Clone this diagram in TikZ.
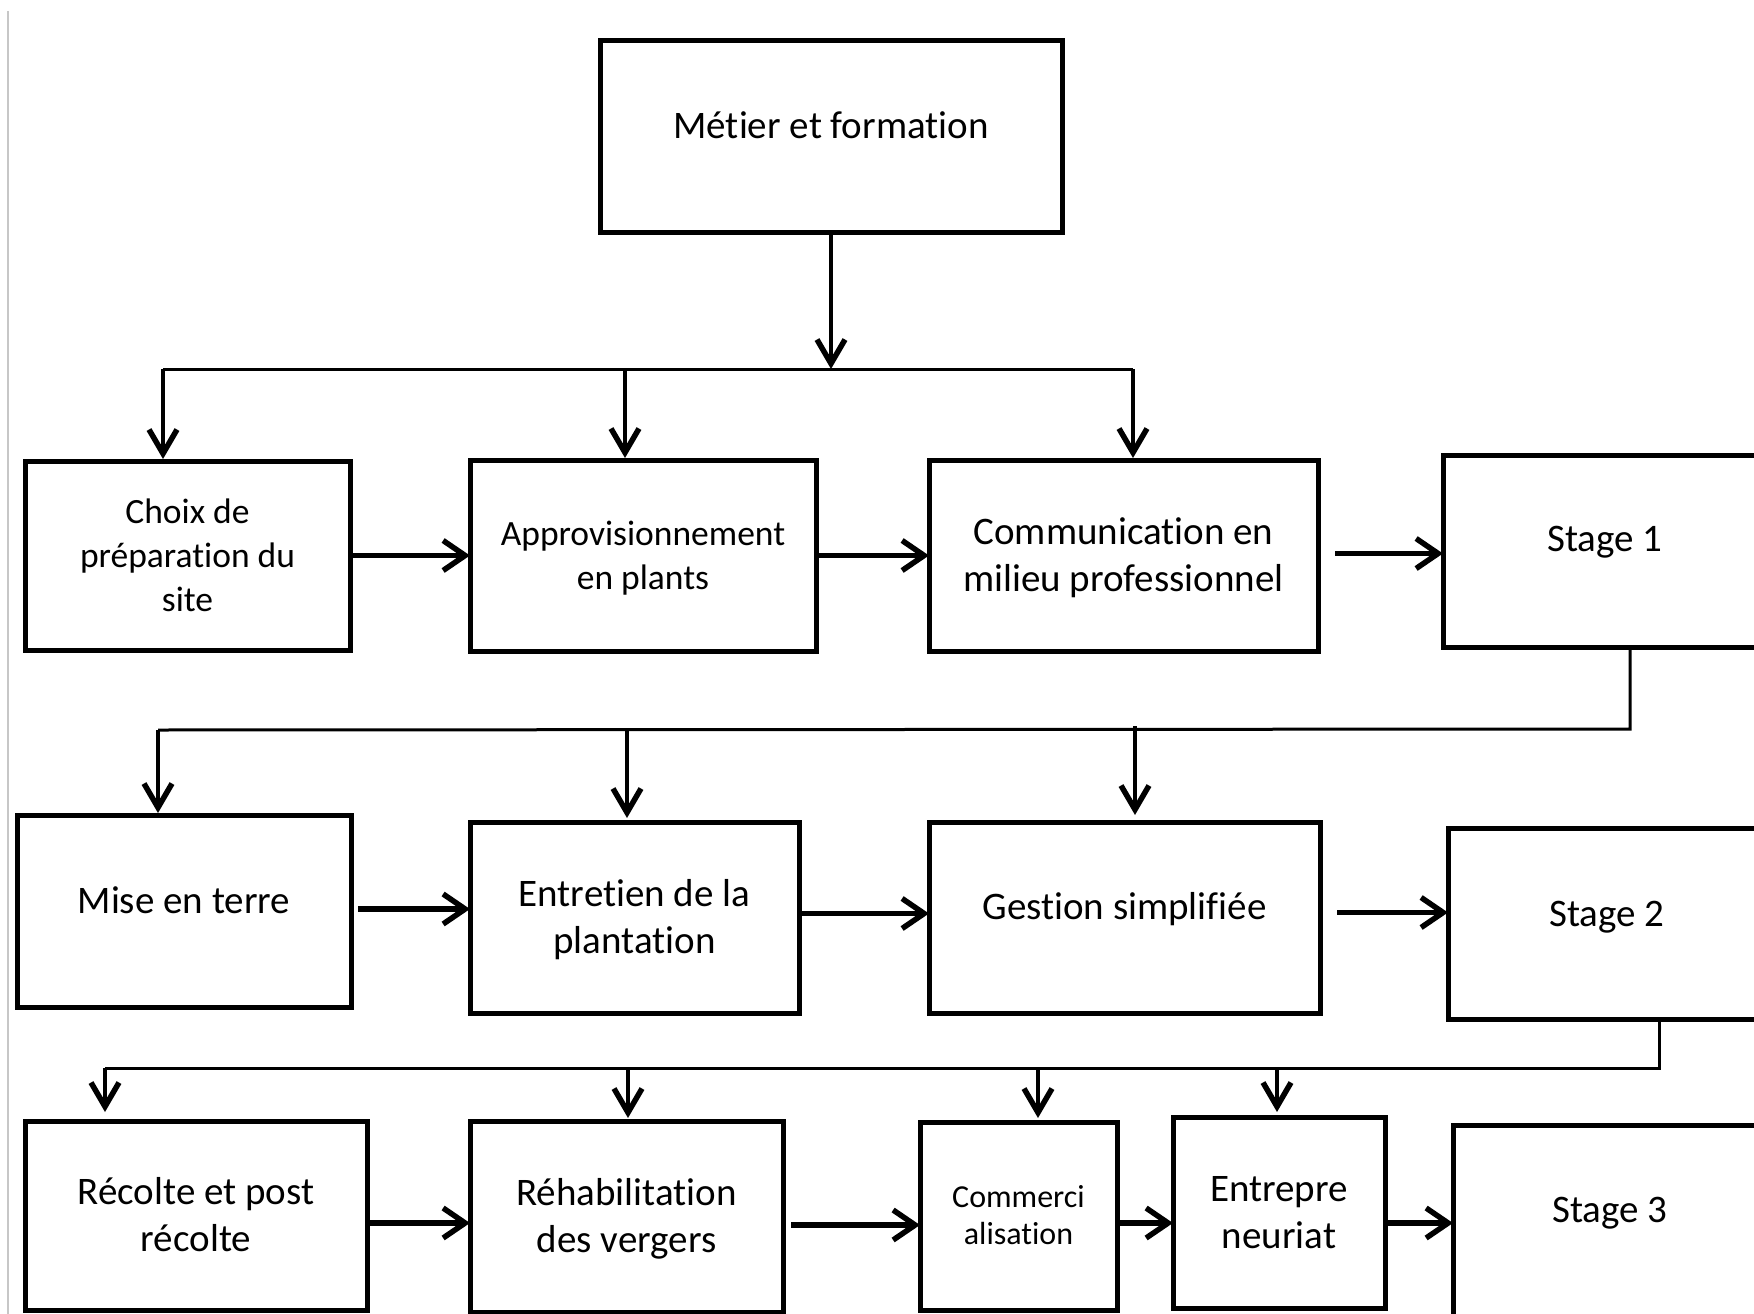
\documentclass[tikz,border=0pt]{standalone}
\usepackage{fontspec}
\setmainfont{Carlito}[Ligatures={NoCommon,NoContextual},Contextuals=NoAlternate]
\usetikzlibrary{arrows.meta,calc}
\newcommand{\up}[2][10pt]{\raisebox{#1}[\height][\depth]{#2}}
\newcommand{\dn}[1]{\raisebox{-3pt}[\height][\depth]{\begin{tabular}{@{}c@{}}#1\end{tabular}}}
\tikzset{
  box/.style={draw, line width=5pt, inner sep=0pt, outer sep=0pt, align=center,
    font=\fontsize{39pt}{47pt}\selectfont},
  smallbox/.style={box, font=\fontsize{35.5pt}{44pt}\selectfont},
  tinybox/.style={box, font=\fontsize{32pt}{37pt}\selectfont},
  harrow/.style={line width=5.5pt, -{Straight Barb[length=22pt,width=30pt,line width=5.5pt]}},
  darrow/.style={line width=3.5pt, -{Straight Barb[length=24pt,width=28pt,line width=5.5pt]}},
  barline/.style={line width=3pt, line join=miter},
}
\begin{document}
\begin{tikzpicture}[x=1pt,y=-1pt]
\useasboundingbox (0,0) rectangle (1754,1314);
\clip (0,0) rectangle (1754,1314);
\fill[white] (0,0) rectangle (1754,1314);
\draw[black!22, line width=2pt] (8,11) -- (8,1320);

% boxes
\node[box, minimum width=462pt, minimum height=191pt] (b0) at (831,136.5) {\up[11pt]{Métier et formation}};

\node[smallbox, minimum width=325pt, minimum height=189pt] (b1) at (187.5,555.5) {\dn{Choix de\\préparation du\\site}};
\node[smallbox, minimum width=346pt, minimum height=191pt] (b2) at (643,555.5) {\dn{Approvisionnement\\en plants}};
\node[box, minimum width=389pt, minimum height=191pt] (b3) at (1123.5,555.5) {\dn{Communication en\\milieu professionnel}};
\node[box, minimum width=324pt, minimum height=192pt] (s1) at (1605,551) {\up[9pt]{Stage 1}};

\node[box, minimum width=334pt, minimum height=192pt] (b5) at (184,911) {\up[11pt]{Mise en terre}};
\node[box, minimum width=329pt, minimum height=191pt] (b6) at (634.5,917.5) {\dn{Entretien de la\\plantation}};
\node[box, minimum width=391pt, minimum height=191pt] (b7) at (1124.5,917.5) {\up[8pt]{Gestion simplifiée}};
\node[box, minimum width=318pt, minimum height=191pt] (s2) at (1607,923.5) {\up[6pt]{Stage 2}};

\node[box, minimum width=342pt, minimum height=189pt] (b9) at (196,1215.5) {\dn{Récolte et post\\récolte}};
\node[box, minimum width=313pt, minimum height=191pt] (b10) at (626.5,1216.5) {\dn{Réhabilitation\\des vergers}};
\node[tinybox, minimum width=197pt, minimum height=188pt] (b11) at (1018.5,1216) {\dn{Commerci\\alisation}};
\node[box, minimum width=212pt, minimum height=191pt] (b12) at (1279,1212.5) {\dn{Entrepre\\neuriat}};
\node[box, minimum width=314pt, minimum height=191pt] (s3) at (1610,1220.5) {\up[7pt]{Stage 3}};

% row 1 distribution
\coordinate (t1) at (834,369);
\coordinate (r1a) at (163,369);
\coordinate (r1b) at (625,369);
\coordinate (r1c) at (1133,369);
\draw[darrow, line width=4.5pt] (b0.south) -- (b0.south |- t1);
\draw[barline] (r1a) -- (r1c);
\draw[darrow, shorten >=2pt] (r1a) -- (r1a |- b1.north);
\draw[darrow, shorten >=2pt] (r1b) -- (r1b |- b2.north);
\draw[darrow, shorten >=2pt] (r1c) -- (r1c |- b3.north);

% row 1 flow
\draw[harrow] (b1.east) -- (b1.east -| b2.west);
\draw[harrow] (b2.east) -- (b2.east -| b3.west);
\draw[harrow, shorten <=17pt] ([yshift=2pt]b3.east) -- ([yshift=2pt]b3.east -| s1.west);

% row 2 distribution
\coordinate (j1) at (1630,729);
\coordinate (r2a) at (158,730);
\coordinate (r2b) at (627,730);
\coordinate (r2c) at (1135,726);
\draw[barline] (j1 |- s1.south) -- (j1) -- (r2a);
\draw[darrow, shorten >=2pt] (r2a) -- (r2a |- b5.north);
\draw[darrow, shorten >=4pt] (r2b) -- (r2b |- b6.north);
\draw[darrow, shorten >=7pt] (r2c) -- (r2c |- b7.north);

% row 2 flow
\draw[harrow, shorten <=7pt] ([yshift=2pt]b5.east) -- ([yshift=2pt]b5.east -| b6.west);
\draw[harrow] ([yshift=4pt]b6.east) -- ([yshift=4pt]b6.east -| b7.west);
\draw[harrow, shorten <=17pt] ([yshift=5pt]b7.east) -- ([yshift=5pt]b7.east -| s2.west);

% row 3 distribution
\coordinate (j2) at (1659,1068);
\coordinate (r3a) at (105,1068);
\coordinate (r3b) at (628,1068);
\coordinate (r3c) at (1038,1068);
\coordinate (r3d) at (1277,1068);
\draw[barline] (j2 |- s2.south) -- (j2) -- (r3a);
\draw[darrow, shorten >=9pt] (r3a) -- (r3a |- b9.north);
\draw[darrow, shorten >=3pt] (r3b) -- (r3b |- b10.north);
\draw[darrow, shorten >=4pt] (r3c) -- (r3c |- b11.north);
\draw[darrow, shorten >=5pt] (r3d) -- (r3d |- b12.north);

% row 3 flow
\draw[harrow] ([yshift=-7.5pt]b9.east) -- ([yshift=-7.5pt]b9.east -| b10.west);
\draw[harrow, shorten <=8pt] ([yshift=-8.5pt]b10.east) -- ([yshift=-8.5pt]b10.east -| b11.west);
\draw[harrow] ([yshift=-7pt]b11.east) -- ([yshift=-7pt]b11.east -| b12.west);
\draw[harrow] ([yshift=-10.5pt]b12.east) -- ([yshift=-10.5pt]b12.east -| s3.west);
\end{tikzpicture}
\end{document}
